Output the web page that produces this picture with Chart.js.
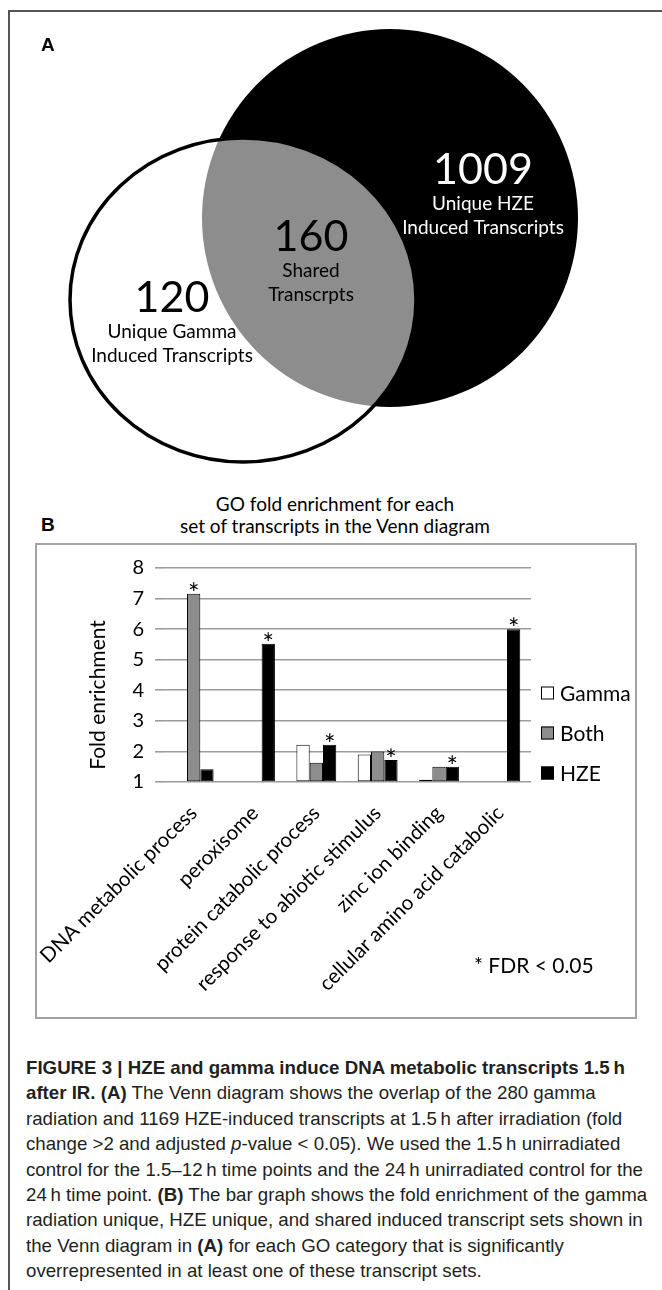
<!DOCTYPE html>
<html>
<head>
<meta charset="utf-8">
<script src="https://cdn.jsdelivr.net/npm/chart.js@4.4.0/dist/chart.umd.min.js"></script>
<style>
body { margin: 0; background: #fff; }
#page { position: relative; width: 662px; height: 1290px; overflow: hidden; font-family: Lato, sans-serif; color: #000; }
#frame { position: absolute; left: 8px; top: 10px; width: 700px; height: 1300px; border-top: 2px solid #555; border-left: 2px solid #555; }
.tag { position: absolute; font-family: "Liberation Sans", Arial, sans-serif; font-weight: bold; font-size: 19px; line-height: 19px; }
#venn { position: absolute; left: 0; top: 0; }
#gotitle { position: absolute; left: 135px; width: 400px; top: 493px; text-align: center; font-size: 19px; line-height: 22px; }
#box { position: absolute; left: 35px; top: 543px; width: 598px; height: 472px; border: 2px solid #a3a3a3; }
#bars { position: absolute; left: 0; top: 0; }
#ytitle { position: absolute; left: -3px; top: 683px; width: 200px; text-align: center; font-size: 21px; line-height: 24px; transform: rotate(-90deg); }
#fdr { position: absolute; left: 474px; top: 952px; font-size: 21px; line-height: 26px; }
#caption { position: absolute; left: 26px; top: 1055px; font-family: "Liberation Sans", Arial, sans-serif; font-size: 19px; line-height: 25.4px; color: #231f20; white-space: nowrap; transform-origin: 0 0; }
</style>
</head>
<body>
<div id="page">
  <div id="frame"></div>
  <canvas id="venn" width="662" height="470"></canvas>
  <div class="tag" style="left:41px;top:35px;">A</div>
  <div class="tag" style="left:41px;top:515px;">B</div>
  <div id="gotitle">GO fold enrichment for each<br>set of transcripts in the Venn diagram</div>
  <div id="box"><canvas id="bars" width="598" height="472"></canvas></div>
  <div id="ytitle">Fold enrichment</div>
  <div id="fdr">* FDR &lt; 0.05</div>
  <div id="caption"><b>FIGURE 3 | HZE and gamma induce DNA metabolic transcripts 1.5&#8201;h</b><br><b>after IR. (A)</b> The Venn diagram shows the overlap of the 280 gamma<br>radiation and 1169 HZE-induced transcripts at 1.5&#8201;h after irradiation (fold<br>change &gt;2 and adjusted <i>p</i>-value &lt; 0.05). We used the 1.5&#8201;h unirradiated<br><span id="capline">control for the 1.5–12&#8201;h time points and the 24&#8201;h unirradiated control for the</span><br>24&#8201;h time point. <b>(B)</b> The bar graph shows the fold enrichment of the gamma<br>radiation unique, HZE unique, and shared induced transcript sets shown in<br>the Venn diagram in <b>(A)</b> for each GO category that is significantly<br>overrepresented in at least one of these transcript sets.</div>
</div>
<script>
// Venn diagram (panel A)
var vennCounts = [120, 160, 1009];
var vennLines = [['Unique Gamma', 'Induced Transcripts'], ['Shared', 'Transcrpts'], ['Unique HZE', 'Induced Transcripts']];

// bar chart (panel B)
var categories = ['DNA metabolic process', 'peroxisome', 'protein catabolic process',
                  'response to abiotic stimulus', 'zinc ion binding', 'cellular amino acid catabolic'];
var seriesNames = ['Gamma', 'Both', 'HZE'];
var gammaValues = [null, null, 2.22, 1.9, 1.07, null];
var bothValues = [7.16, null, 1.63, 2.0, 1.5, null];
var hzeValues = [1.42, 5.52, 2.22, 1.72, 1.5, 6.0];
// * = FDR < 0.05
var gammaSig = [false, false, false, false, false, false];
var bothSig = [true, false, false, false, false, false];
var hzeSig = [false, true, true, true, true, true];
var yMin = 1, yMax = 8;

// condensed caption: squeeze the widest line to the column width
var cap = document.getElementById('caption');
var capW = document.getElementById('capline').getBoundingClientRect().width;
cap.style.transform = 'scaleX(' + (617 / capW) + ')';

var vennPlugin = {
    id: 'vennShapes',
    beforeDatasetsDraw: function(chart) {
        var ctx = chart.ctx;
        var sx = chart.scales.x, sy = chart.scales.y;
        var ell = function(cx, cy, rx, ry) {
            var px = sx.getPixelForValue(cx), py = sy.getPixelForValue(cy);
            var w = Math.abs(sx.getPixelForValue(cx + rx) - px);
            var h = Math.abs(sy.getPixelForValue(cy + ry) - py);
            ctx.beginPath();
            ctx.ellipse(px, py, w, h, 0, 0, Math.PI * 2);
        };
        ctx.save();
        // HZE
        ell(390, 218, 188, 189);
        ctx.fillStyle = '#000';
        ctx.fill();
        // gamma + overlap
        ctx.save();
        ell(243, 300, 173, 162);
        ctx.clip();
        ctx.fillStyle = '#fff';
        ctx.fillRect(0, 0, chart.width, chart.height);
        ell(390, 218, 188, 189);
        ctx.fillStyle = '#8d8d8d';
        ctx.fill();
        ctx.restore();
        ell(243, 300, 173, 162);
        ctx.lineWidth = 3.5;
        ctx.strokeStyle = '#000';
        ctx.stroke();

        var spots = [[172, 298, '#000'], [311, 237, '#000'], [483, 170, '#fff']];
        ctx.textAlign = 'center';
        ctx.textBaseline = 'middle';
        for (var i = 0; i < vennCounts.length; i++) {
            var x = sx.getPixelForValue(spots[i][0]);
            var y = sy.getPixelForValue(spots[i][1]);
            ctx.fillStyle = spots[i][2];
            ctx.font = '43px Lato';
            ctx.fillText(String(vennCounts[i]), x, y);
            ctx.font = '19px Lato';
            ctx.fillText(vennLines[i][0], x, y + 34);
            ctx.fillText(vennLines[i][1], x, y + 58);
        }
        ctx.restore();
    }
};

new Chart(document.getElementById('venn'), {
    type: 'scatter',
    data: { datasets: [{ data: [] }] },
    options: {
        responsive: false,
        animation: false,
        layout: { padding: 0 },
        scales: {
            x: { type: 'linear', min: 0, max: 662, display: false },
            y: { type: 'linear', min: 0, max: 470, reverse: true, display: false }
        },
        plugins: { legend: { display: false }, tooltip: { enabled: false } }
    },
    plugins: [vennPlugin]
});

var starPlugin = {
    id: 'stars',
    afterDatasetsDraw: function(chart) {
        var ctx = chart.ctx;
        ctx.save();
        ctx.fillStyle = '#000';
        ctx.font = '27px Lato';
        ctx.textAlign = 'center';
        ctx.textBaseline = 'alphabetic';
        chart.data.datasets.forEach(function(ds, i) {
            var meta = chart.getDatasetMeta(i);
            meta.data.forEach(function(bar, j) {
                if (ds.sig[j] && ds.data[j] != null) {
                    ctx.fillText('*', bar.x, bar.y + 9);
                }
            });
        });
        ctx.restore();
    }
};

var sideLegend = {
    id: 'sideLegend',
    afterDraw: function(chart) {
        var ctx = chart.ctx, area = chart.chartArea;
        var rows = [area.bottom - 89, area.bottom - 49, area.bottom - 9];
        ctx.save();
        ctx.font = '21px Lato';
        ctx.textBaseline = 'middle';
        ctx.textAlign = 'left';
        chart.data.datasets.forEach(function(ds, i) {
            var x = area.right + 10, y = rows[i];
            ctx.fillStyle = ds.backgroundColor;
            ctx.fillRect(x, y - 6.5, 13, 13);
            ctx.strokeStyle = '#000';
            ctx.lineWidth = 1;
            ctx.strokeRect(x + 0.5, y - 6, 12, 12);
            ctx.fillStyle = '#000';
            ctx.fillText(ds.label, x + 19, y + 1);
        });
        ctx.restore();
    }
};

new Chart(document.getElementById('bars'), {
    type: 'bar',
    data: {
        labels: categories,
        datasets: [
            { label: seriesNames[0], data: gammaValues, sig: gammaSig, backgroundColor: '#ffffff', borderColor: '#000', borderWidth: 1 },
            { label: seriesNames[1], data: bothValues, sig: bothSig, backgroundColor: '#8d8d8d', borderColor: '#000', borderWidth: 1 },
            { label: seriesNames[2], data: hzeValues, sig: hzeSig, backgroundColor: '#000000', borderColor: '#000', borderWidth: 1 }
        ]
    },
    options: {
        responsive: false,
        animation: false,
        layout: { padding: { top: 20, right: 104, left: 0, bottom: 0 } },
        datasets: { bar: { categoryPercentage: 0.65, barPercentage: 1.0, base: yMin, borderSkipped: false } },
        scales: {
            x: {
                grid: { display: false },
                border: { display: false },
                ticks: { color: '#000', font: { family: 'Lato', size: 20.5 }, minRotation: 45, maxRotation: 45, autoSkip: false, padding: 11 },
                afterFit: function(s) {
                    s.height = 235;
                    s.paddingLeft = 0;
                    s.paddingRight = 0;
                }
            },
            y: {
                min: yMin,
                max: yMax,
                ticks: { stepSize: 1, color: '#000', font: { family: 'Lato', size: 20 }, padding: 11 },
                grid: { color: '#9c9c9c', lineWidth: 1.6, tickLength: 8 },
                border: { display: false },
                afterFit: function(s) { s.width = 126; }
            }
        },
        plugins: { legend: { display: false }, tooltip: { enabled: false } }
    },
    plugins: [starPlugin, sideLegend]
});
</script>
</body>
</html>
